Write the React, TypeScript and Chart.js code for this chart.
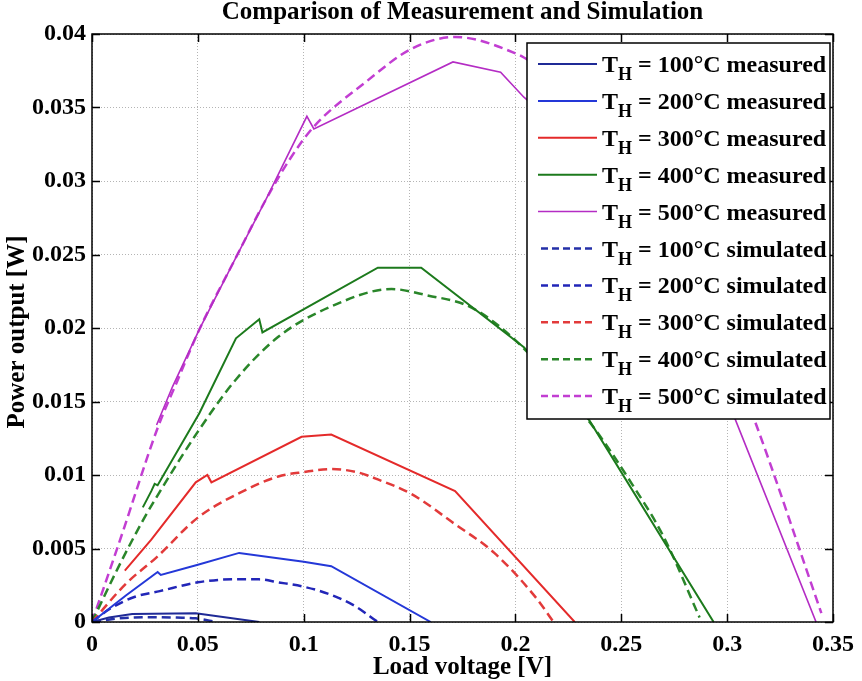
import React, { useEffect, useRef } from "react";
import { Chart, registerables } from "chart.js";

Chart.register(...registerables);

const FONT = '"Liberation Serif", "Times New Roman", serif';

// Title & axes text
const chartTitle = "Comparison of Measurement and Simulation";
const xTitle = "Load voltage [V]";
const yTitle = "Power output [W]";
const xMin = 0, xMax = 0.35, xStep = 0.05;
const yMin = 0, yMax = 0.04, yStep = 0.005;

// Temperatures / series labels
const temps = ["100", "200", "300", "400", "500"];

// ---- measured series (load voltage [V], power [W]) ----
const m100V = [0, 0.008, 0.019, 0.049, 0.079];
const m100P = [0, 0.0003, 0.00054, 0.0006, 0];

const m200V = [0, 0.016, 0.031, 0.0325, 0.05, 0.0695, 0.1, 0.113, 0.16];
const m200P = [0, 0.0018, 0.0034, 0.0032, 0.0039, 0.0047, 0.0041, 0.0038, 0];

const m300V = [0.0155, 0.028, 0.049, 0.0545, 0.0564, 0.099, 0.113, 0.1715, 0.228];
const m300P = [0.0035, 0.0056, 0.0095, 0.01, 0.0095, 0.0126, 0.01275, 0.0089, 0];

const m400V = [0.024, 0.028, 0.0296, 0.031, 0.0507, 0.068, 0.079, 0.0805, 0.135, 0.1555, 0.204, 0.235, 0.2936];
const m400P = [0.0078, 0.0089, 0.0094, 0.0093, 0.0142, 0.0193, 0.0206, 0.0197, 0.0241, 0.0241, 0.0187, 0.0137, 0];

const m500V = [0.0305, 0.038, 0.0507, 0.068, 0.082, 0.1015, 0.1048, 0.1705, 0.193, 0.204, 0.25, 0.28, 0.3035, 0.342];
const m500P = [0.0134, 0.016, 0.0199, 0.0248, 0.0287, 0.0344, 0.03354, 0.0381, 0.0374, 0.0357, 0.03, 0.022, 0.0139, 0];

// ---- simulated series ----
const s100V = [0, 0.01, 0.018, 0.03, 0.04, 0.049, 0.0587];
const s100P = [0, 0.0002, 0.0003, 0.00033, 0.0003, 0.00025, 0];

const s200V = [0, 0.0085, 0.02, 0.032, 0.05, 0.066, 0.079, 0.088, 0.1, 0.112, 0.124, 0.135];
const s200P = [0, 0.0009, 0.0017, 0.0021, 0.0027, 0.0029, 0.0029, 0.0027, 0.0024, 0.0019, 0.0011, 0];

const s300V = [0, 0.016, 0.0305, 0.05, 0.07, 0.088, 0.1, 0.113, 0.125, 0.135, 0.151, 0.171, 0.19, 0.21, 0.2175];
const s300P = [0, 0.0026, 0.0044, 0.0071, 0.0088, 0.0099, 0.0102, 0.0104, 0.0102, 0.0097, 0.0087, 0.0067, 0.0047, 0.0016, 0.0001];

const s400V = [0, 0.012, 0.024, 0.0305, 0.0507, 0.068, 0.088, 0.112, 0.1415, 0.159, 0.176, 0.189, 0.204, 0.235, 0.255, 0.27, 0.287];
const s400P = [0, 0.0036, 0.0069, 0.0085, 0.0131, 0.0165, 0.0194, 0.0214, 0.02265, 0.0222, 0.0216, 0.0205, 0.0186, 0.0136, 0.0094, 0.0058, 0.0003];

const s500V = [0, 0.014, 0.031, 0.04, 0.0507, 0.068, 0.082, 0.0935, 0.1048, 0.129, 0.151, 0.1715, 0.182, 0.1997, 0.204, 0.23, 0.26, 0.29, 0.3125, 0.3445];
const s500P = [0, 0.0059, 0.0132, 0.0163, 0.0199, 0.0248, 0.0287, 0.0315, 0.0337, 0.0367, 0.039, 0.0398, 0.0396, 0.0387, 0.0384, 0.036, 0.031, 0.022, 0.0139, 0.0006];

const measuredColors = ["#1f2a96", "#2438d8", "#e42a2a", "#1c7a1c", "#b42cc4"];
const simulatedColors = ["#2430a8", "#2226b8", "#e23a3a", "#2a862a", "#c23ed2"];

const measuredV = [m100V, m200V, m300V, m400V, m500V];
const measuredP = [m100P, m200P, m300P, m400P, m500P];
const simulatedV = [s100V, s200V, s300V, s400V, s500V];
const simulatedP = [s100P, s200P, s300P, s400P, s500P];

const zip = (xs: number[], ys: number[]) => xs.map((x, i) => ({ x, y: ys[i] }));

const fmt = (v: number) => String(Number(v.toFixed(4)));

const framePlugin = {
  id: "matlabFrame",
  afterDatasetsDraw(chart: any) {
    const { ctx, chartArea: a, scales } = chart;
    ctx.save();
    ctx.strokeStyle = "#000";
    ctx.lineWidth = 1.5;
    ctx.setLineDash([]);
    ctx.strokeRect(a.left, a.top, a.right - a.left, a.bottom - a.top);
    const tl = 8;
    ctx.beginPath();
    scales.x.ticks.forEach((t: any) => {
      const px = Math.round(scales.x.getPixelForValue(t.value)) + 0.5;
      ctx.moveTo(px, a.bottom); ctx.lineTo(px, a.bottom - tl);
      ctx.moveTo(px, a.top); ctx.lineTo(px, a.top + tl);
    });
    scales.y.ticks.forEach((t: any) => {
      const py = Math.round(scales.y.getPixelForValue(t.value)) + 0.5;
      ctx.moveTo(a.left, py); ctx.lineTo(a.left + tl, py);
      ctx.moveTo(a.right, py); ctx.lineTo(a.right - tl, py);
    });
    ctx.stroke();
    ctx.restore();
  },
  afterDraw(chart: any) {
    const { ctx, chartArea: a } = chart;
    ctx.save();
    ctx.fillStyle = "#000";
    // chart title
    ctx.font = `bold 25px ${FONT}`;
    ctx.textAlign = "center";
    ctx.textBaseline = "alphabetic";
    ctx.fillText(chartTitle, (a.left + a.right) / 2, 19);
    // x title
    ctx.font = `bold 25px ${FONT}`;
    ctx.fillText(xTitle, (a.left + a.right) / 2, 674);
    // y title
    ctx.save();
    ctx.translate(24, (a.top + a.bottom) / 2 + 4);
    ctx.rotate(-Math.PI / 2);
    ctx.fillText(yTitle, 0, 0);
    ctx.restore();

    // legend
    const L = 527, T = 43, R = 830, B = 419;
    ctx.fillStyle = "#fff";
    ctx.fillRect(L, T, R - L, B - T);
    ctx.save();
    ctx.beginPath();
    ctx.rect(L, T, R - L, B - T);
    ctx.clip();
    const entries: { color: string; dashed: boolean; text: string; temp: string }[] = [];
    temps.forEach((t, i) => entries.push({ color: measuredColors[i], dashed: false, text: "measured", temp: t }));
    temps.forEach((t, i) => entries.push({ color: simulatedColors[i], dashed: true, text: "simulated", temp: t }));
    entries.forEach((e, i) => {
      const y = 64 + 36.9 * i;
      ctx.strokeStyle = e.color;
      ctx.lineWidth = e.dashed ? 2.5 : (i === 4 ? 1.5 : 2);
      ctx.setLineDash(e.dashed ? [7, 4] : []);
      ctx.beginPath();
      ctx.moveTo(e.dashed ? 541 : 538, y);
      ctx.lineTo(e.dashed ? 596 : 597, y);
      ctx.stroke();
      ctx.setLineDash([]);
      ctx.fillStyle = "#000";
      ctx.textAlign = "left";
      ctx.font = `bold 24px ${FONT}`;
      const base = y + 8;
      ctx.fillText("T", 602, base);
      const tw = ctx.measureText("T").width;
      ctx.font = `bold 18px ${FONT}`;
      ctx.fillText("H", 602 + tw, base + 8);
      const hw = ctx.measureText("H").width;
      ctx.font = `bold 24px ${FONT}`;
      ctx.fillText(` = ${e.temp}\u00B0C ${e.text}`, 602 + tw + hw, base);
    });
    ctx.restore();
    ctx.strokeStyle = "#000";
    ctx.lineWidth = 1.5;
    ctx.setLineDash([]);
    ctx.strokeRect(L, T, R - L, B - T);
    ctx.restore();
  },
};

export default function App() {
  const canvasRef = useRef<HTMLCanvasElement | null>(null);

  useEffect(() => {
    const canvas = canvasRef.current;
    if (!canvas) return;
    const datasets: any[] = [];
    for (let i = 0; i < 5; i++) {
      datasets.push({
        label: `T_H = ${temps[i]}°C measured`,
        data: zip(measuredV[i], measuredP[i]),
        borderColor: measuredColors[i],
        borderWidth: i === 4 ? 1.6 : 2,
        pointRadius: 0,
        tension: 0,
        fill: false,
      });
    }
    for (let i = 0; i < 5; i++) {
      datasets.push({
        label: `T_H = ${temps[i]}°C simulated`,
        data: zip(simulatedV[i], simulatedP[i]),
        borderColor: simulatedColors[i],
        borderWidth: 2.5,
        borderDash: [9, 5],
        pointRadius: 0,
        cubicInterpolationMode: "monotone",
        fill: false,
      });
    }
    const chart = new Chart(canvas, {
      type: "line",
      data: { datasets },
      options: {
        animation: false,
        responsive: false,
        devicePixelRatio: 1,
        layout: { padding: { left: 0, right: 25, top: 34, bottom: 0 } },
        plugins: {
          legend: { display: false },
          title: { display: false },
          tooltip: { enabled: false },
        },
        scales: {
          x: {
            type: "linear",
            min: xMin,
            max: xMax,
            afterFit: (s: any) => { s.height = 59; },
            afterBuildTicks: (s: any) => {
              const t = [];
              for (let v = xMin; v <= xMax + 1e-9; v += xStep) t.push({ value: Number(v.toFixed(4)) });
              s.ticks = t;
            },
            ticks: {
              color: "#000",
              font: { family: FONT, size: 24, weight: "bold" },
              padding: 8,
              maxRotation: 0,
              autoSkip: false,
              callback: (v: any) => fmt(Number(v)),
            },
            grid: { color: "#b4b4b4", lineWidth: 1, drawTicks: false },
            border: { display: false, dash: [1, 2] },
          },
          y: {
            type: "linear",
            min: yMin,
            max: yMax,
            afterFit: (s: any) => { s.width = 92; },
            afterBuildTicks: (s: any) => {
              const t = [];
              for (let v = yMin; v <= yMax + 1e-9; v += yStep) t.push({ value: Number(v.toFixed(4)) });
              s.ticks = t;
            },
            ticks: {
              color: "#000",
              font: { family: FONT, size: 24, weight: "bold" },
              padding: 6,
              autoSkip: false,
              callback: (v: any) => fmt(Number(v)),
            },
            grid: { color: "#b4b4b4", lineWidth: 1, drawTicks: false },
            border: { display: false, dash: [1, 2] },
          },
        },
      },
      plugins: [framePlugin],
    } as any);
    return () => chart.destroy();
  }, []);

  return (
    <div style={{ position: "fixed", left: 0, top: 0, width: 862, height: 681, background: "#fff" }}>
      <canvas ref={canvasRef} width={862} height={681} style={{ display: "block" }} />
    </div>
  );
}
